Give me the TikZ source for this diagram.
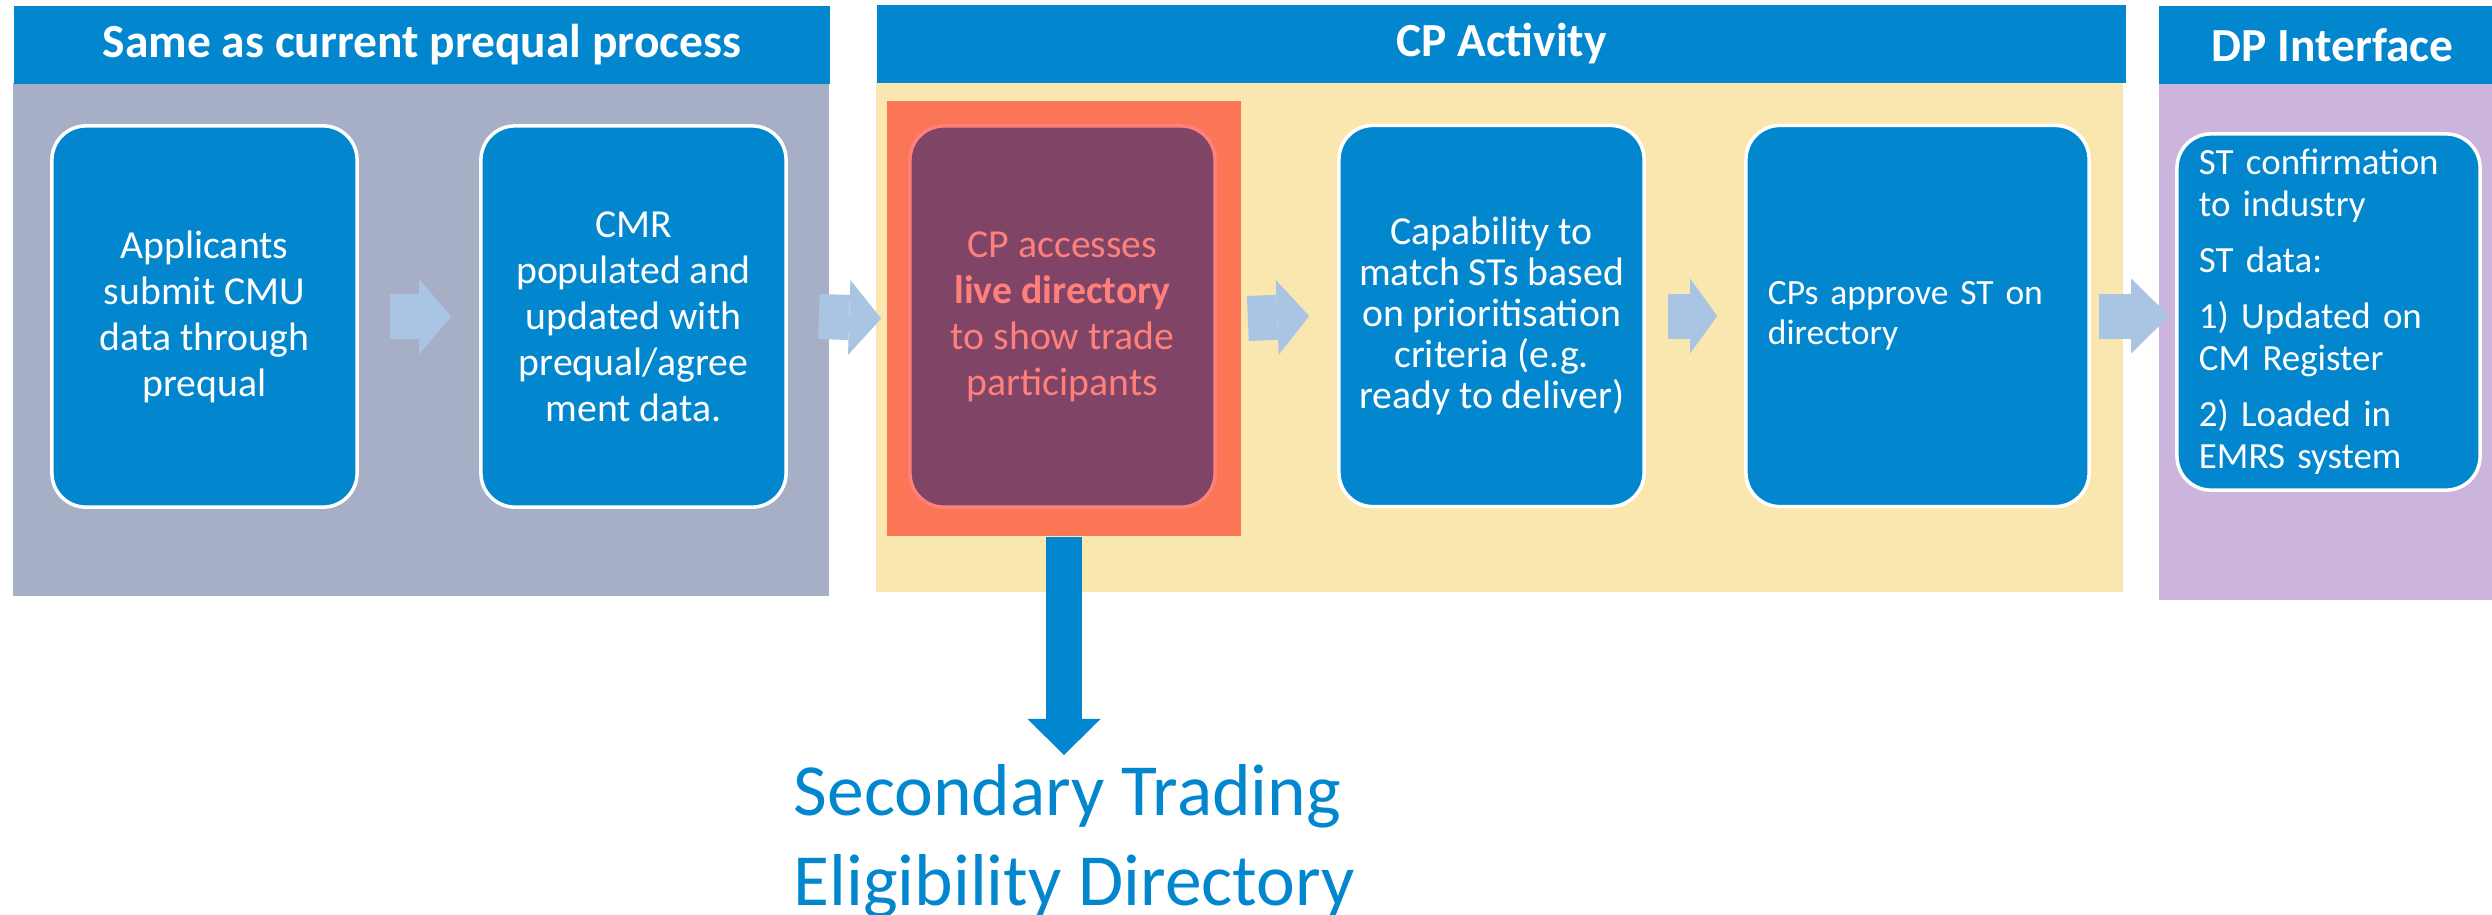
\documentclass[tikz,border=0pt]{standalone}
\usepackage{fontspec}
\setmainfont{Carlito}
\usetikzlibrary{arrows.meta,calc}
\definecolor{hdrblue}{RGB}{2,135,207}
\definecolor{panelgray}{RGB}{166,175,198}
\definecolor{panelyellow}{RGB}{249,231,175}
\definecolor{panelpurple}{RGB}{203,181,220}
\definecolor{framered}{RGB}{251,117,87}
\definecolor{boxplum}{RGB}{128,68,102}
\definecolor{plumtext}{RGB}{255,128,122}
\definecolor{arrowblue}{RGB}{170,196,228}
\begin{document}
\begin{tikzpicture}[x=0.01cm,y=-0.01cm,
        header/.style={fill=hdrblue,text=white,anchor=north west,inner sep=0pt,
            minimum height=0.78cm,font=\fontsize{13.5}{16}\selectfont\bfseries},
        task/.style={draw=white,line width=1pt,fill=hdrblue,text=white,
            rounded corners=0.34cm,minimum width=3.05cm,minimum height=3.81cm,
            align=center,font=\fontsize{11.3}{13.1}\selectfont},
        flow/.style={draw=arrowblue,line width=0.45cm,
            -{Triangle[length=#1,width=0.75cm,line width=0pt]}},
        flow/.default=0.32cm]
    \useasboundingbox (0,0) rectangle (2492,914);

    % stage backgrounds
    \fill[panelgray] (13,83) rectangle (829,596);
    \fill[panelyellow] (876,82) rectangle (2123,592);
    \fill[panelpurple] (2159,83) rectangle (2506,600);

    \node[header,minimum width=8.16cm] (prequal) at (13,5) {Same as current prequal process};
    \node[header,minimum width=12.49cm] (cpact) at (876,4) {CP Activity};
    \node[header,minimum width=3.48cm] (dpint) at (2158,5) {DP Interface};

    \node[task] (apply) at (204.5,316.5) {Applicants\\submit CMU\\data through\\prequal};
    \node[task] (cmr) at (633.5,316.5) {CMR\\populated and\\updated with\\prequal/agree\\ment data.};
    \node[fill=framered,inner sep=0pt,minimum width=3.54cm,minimum height=4.35cm] (live) at (1064,318.5) {};
    \node[task,fill=boxplum,draw=plumtext,text=plumtext] (access) at (1062.5,316.5)
        {CP accesses\\\textbf{live directory}\\to show trade\\participants};
    \node[task,font=\fontsize{11.3}{11.7}\selectfont] (match) at (1491.5,316)
        {Capability to\\match STs based\\on prioritisation\\criteria (e.g.\\ready to deliver)};
    \node[task,align=left,inner xsep=0.22cm,text width=2.99cm,minimum width=3.43cm,
        font=\fontsize{10.1}{11.4}\selectfont] (approve) at (1917.5,316)
        {CPs approve ST on\\directory};
    \node[task,align=left,inner xsep=0.22cm,text width=2.59cm,minimum width=3.03cm,minimum height=3.56cm,
        font=\fontsize{10.5}{11.95}\selectfont] (confirm) at (2328.5,312)
        {ST confirmation\\to industry\\[0.14cm]ST data:\\[0.14cm]1) Updated on\\CM Register\\[0.14cm]2) Loaded in\\EMRS system};

    \draw[flow] ($(apply.east)+(31,0)$) -- ($(cmr.west)+(-28,0)$);
    \draw[flow] ($(cmr.east)+(31,0)$) -- ($(live.west)+(-5,0)$);
    \draw[flow] ($(live.east)+(6,0)$) -- ($(match.west)+(-28,0)$);
    \draw[flow=0.27cm] ($(match.east)+(22,0)$) -- ($(approve.west)+(-27,0)$);
    \draw[flow=0.38cm] ($(approve.east)+(8,0)$) -- ($(approve.east -| confirm.west)+(-6,0)$);

    \node[anchor=north west,inner sep=0pt,align=left,text=hdrblue,
        font=\fontsize{20.9}{25.6}\selectfont] (directory) at (793,764)
        {Secondary Trading\\Eligibility Directory};
    \draw[draw=hdrblue,line width=0.36cm,shorten >=0.09cm,
        -{Triangle[length=0.36cm,width=0.73cm,line width=0pt]}] (live.south) -- (live.south |- directory.north);
\end{tikzpicture}
\end{document}
